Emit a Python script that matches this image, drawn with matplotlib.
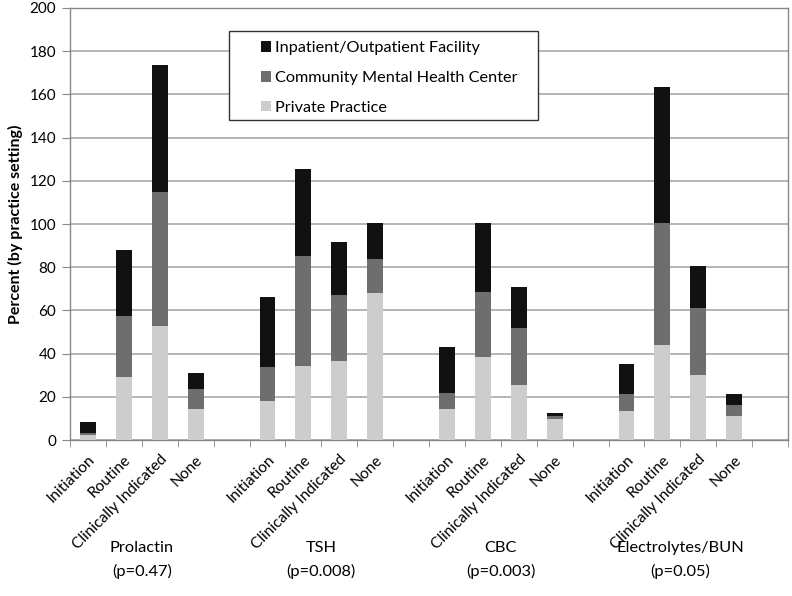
import numpy as np
import matplotlib.pyplot as plt
from matplotlib.patches import Rectangle

# ------------------------------------------------------------
# data (percent by practice setting)
# ------------------------------------------------------------
tests = ["Prolactin\n(p=0.47)", "TSH\n(p=0.008)", "CBC\n(p=0.003)", "Electrolytes/BUN\n(p=0.05)"]
timing = ["Initiation", "Routine", "Clinically Indicated", "None"]

private = [2.3, 29.3, 52.8, 14.4,
           18.2, 34.3, 36.6, 68.2,
           14.2, 38.6, 25.5, 9.7,
           13.6, 44.0, 30.1, 11.3]
cmhc = [0.8, 28.1, 62.1, 9.2,
        15.4, 50.9, 30.4, 15.4,
        7.7, 29.9, 26.5, 1.3,
        7.7, 56.3, 30.9, 4.9]
inpatient = [5.4, 30.6, 58.7, 7.3,
             32.8, 40.1, 24.8, 16.7,
             21.0, 31.8, 18.7, 1.3,
             13.7, 63.3, 19.7, 5.1]

c_inp = "#111111"
c_cmhc = "#6e6e6e"
c_priv = "#cdcdcd"

plt.rcParams["font.family"] = ["Lato", "DejaVu Sans"]

fig = plt.figure(figsize=(7.92, 5.96), dpi=100)
ax = fig.add_axes([0.0884, 0.2617, 0.9066, 0.7249])

# 4 groups of 4 bars, one empty slot after each group
x = np.array([g * 5 + i + 0.5 for g in range(len(tests)) for i in range(len(timing))])
priv = np.array(private)
cm = np.array(cmhc)
inp = np.array(inpatient)

w = 0.44
ax.bar(x, priv, w, color=c_priv, label="Private Practice", zorder=3)
ax.bar(x, cm, w, bottom=priv, color=c_cmhc, label="Community Mental Health Center", zorder=3)
ax.bar(x, inp, w, bottom=priv + cm, color=c_inp, label="Inpatient/Outpatient Facility", zorder=3)

ax.set_xlim(0, 20)
ax.set_ylim(0, 200)
ax.set_yticks(np.arange(0, 201, 20))
ax.yaxis.grid(True, color="#a8a8a8", linewidth=1.2, zorder=0)
ax.tick_params(axis="y", length=6, color="#888888", labelsize=11, pad=4)

ax.set_xticks(x)
ax.set_xticklabels(timing * len(tests), rotation=45, ha="right",
                   rotation_mode="anchor", fontsize=11.2)
ax.tick_params(axis="x", which="major", length=0, pad=9)
ax.set_xticks(np.arange(0, 21, 1), minor=True)
ax.tick_params(axis="x", which="minor", length=5, color="#888888")

for s in ax.spines.values():
    s.set_color("#888888")
    s.set_linewidth(1.0)

ax.set_ylabel("Percent (by practice setting)", fontweight="bold", fontsize=11.5, labelpad=5)

for g, t in enumerate(tests):
    ax.text(g * 5 + 2, -0.278, t, transform=ax.get_xaxis_transform(),
            ha="center", va="center", fontsize=11.8, linespacing=1.75)

# legend box drawn separately so its padding can match the reference
ax.add_patch(Rectangle((0.2214, 0.7407), 0.4304, 0.2061, transform=ax.transAxes,
                       facecolor="white", edgecolor="#333333", linewidth=1.0, zorder=4))
h, l = ax.get_legend_handles_labels()
leg = ax.legend(h[::-1], l[::-1], loc="upper left", bbox_to_anchor=(0.266, 0.923),
                fontsize=11.7, frameon=False,
                handlelength=0.62, handleheight=0.62, handletextpad=0.25,
                labelspacing=0.97, borderpad=0, borderaxespad=0)
leg.set_zorder(5)

fig.savefig("out.png", dpi=100)
